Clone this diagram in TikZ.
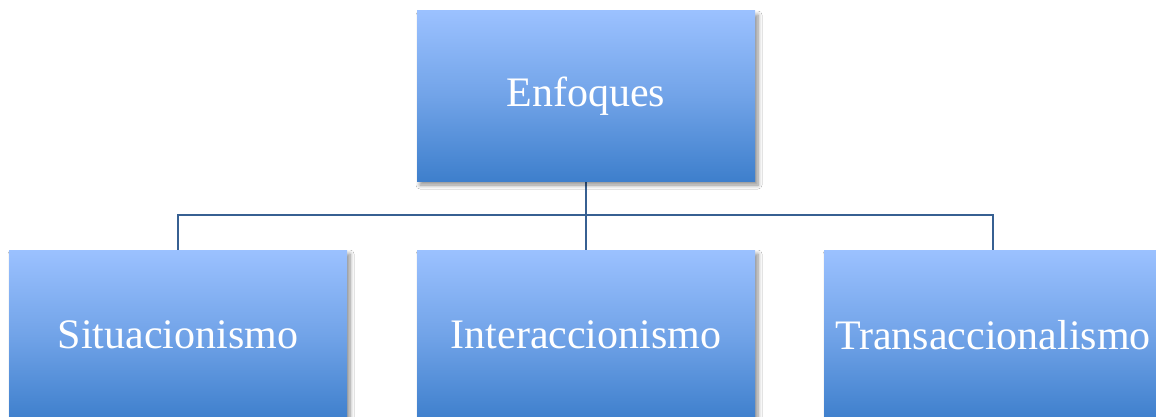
\documentclass[tikz,border=0pt]{standalone}
\usepackage{fontspec}
\setmainfont{Liberation Serif}
\usetikzlibrary{shadows.blur}
\definecolor{boxtop}{RGB}{155,193,255}
\definecolor{boxbot}{RGB}{62,127,204}
\definecolor{linkc}{RGB}{55,96,146}
\tikzset{
  box/.style={rectangle, minimum width=338pt, minimum height=170pt, inner sep=0pt,
    top color=boxtop, bottom color=boxbot, middle color=boxtop!55!boxbot,
    text=white, font=\fontsize{42}{50}\selectfont,
    blur shadow={shadow xshift=3pt, shadow yshift=-4pt, shadow blur steps=6, shadow blur radius=4pt, shadow opacity=45}},
  link/.style={draw=linkc, line width=1.6pt}
}
\begin{document}
\begin{tikzpicture}[x=1pt,y=-1pt]
\useasboundingbox (0,0) rectangle (1156,417);
\clip (0,0) rectangle (1156,417);
\fill[white] (0,0) rectangle (1156,417);
\coordinate (j) at (586,215);
\draw[link] (586,181) -- (j);
\draw[link] (j) -| (178,250);
\draw[link] (j) -| (993,250);
\draw[link] (j) -- (586,250);
\node[box] (top) at (586,96) {Enfoques};
\node[box] (left) at (178,335) {Situacionismo};
\node[box] (mid) at (586,335) {Interaccionismo};
\node[box] (right) at (993,335) {Transaccionalismo};
\end{tikzpicture}
\end{document}
